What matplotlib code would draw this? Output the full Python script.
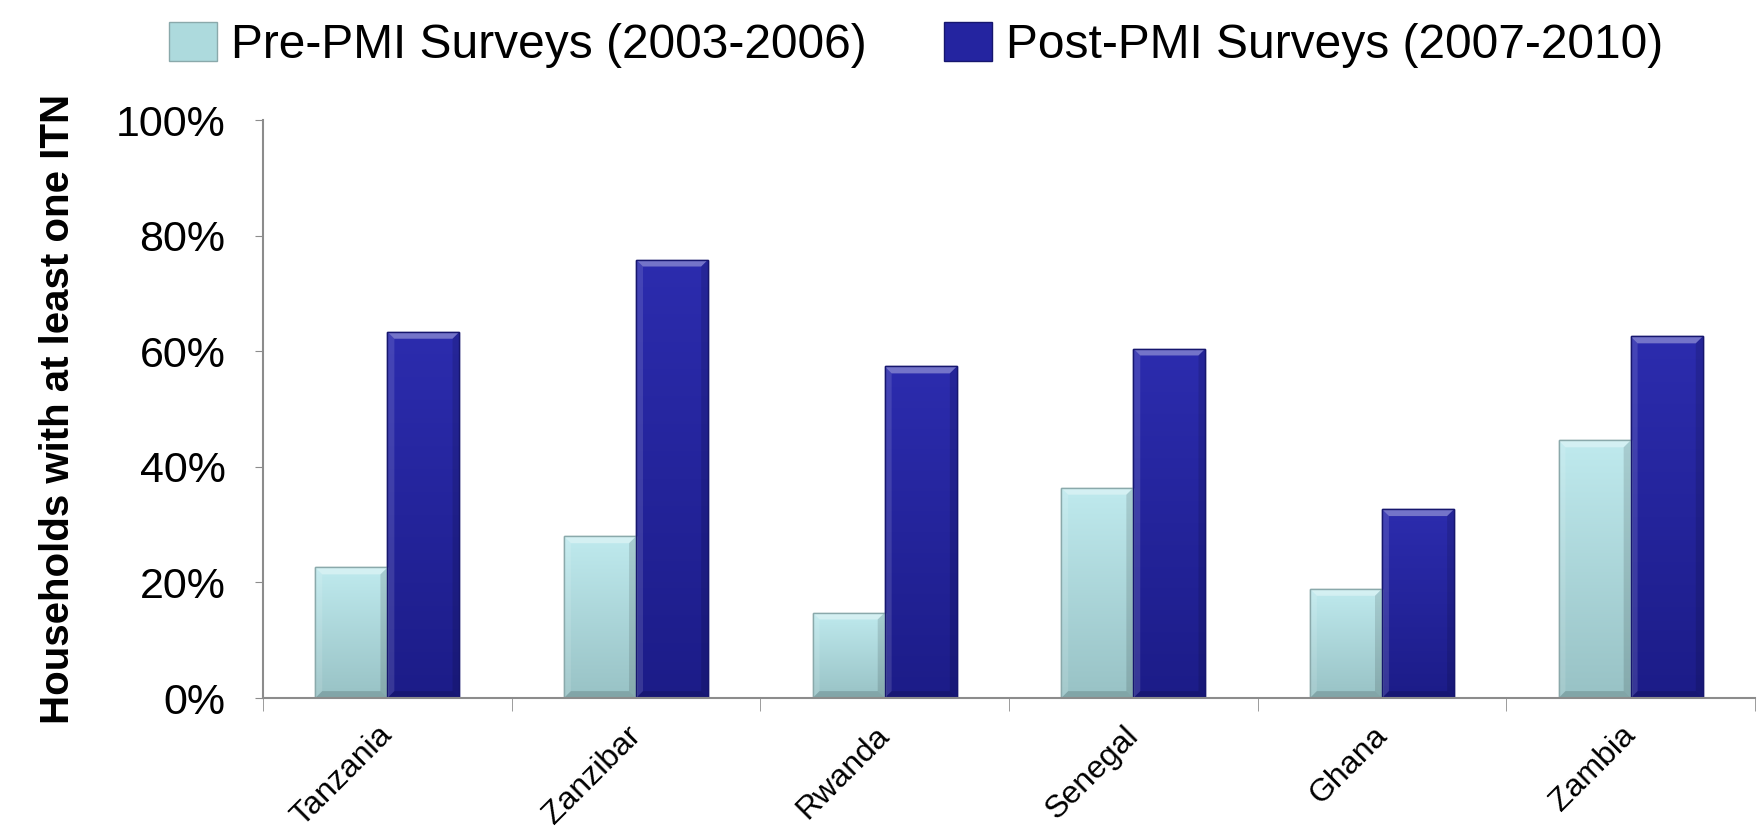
import matplotlib
matplotlib.use("Agg")
import matplotlib.pyplot as plt
import matplotlib.transforms as mtransforms
import numpy as np
from matplotlib.patches import Patch, Polygon
from matplotlib.ticker import FuncFormatter, FixedLocator

countries = ["Tanzania", "Zanzibar", "Rwanda", "Senegal", "Ghana", "Zambia"]
pre_pmi = [0.226, 0.280, 0.148, 0.364, 0.189, 0.446]
post_pmi = [0.634, 0.759, 0.574, 0.605, 0.327, 0.626]
series_labels = ["Pre-PMI Surveys (2003-2006)", "Post-PMI Surveys (2007-2010)"]

PRE_TOP, PRE_BOT, PRE_EDGE = "#bfeaee", "#98c2c5", "#8aa9ab"
POST_TOP, POST_BOT, POST_EDGE = "#2c2cae", "#1c1c88", "#16166e"
AXIS = "#8c8c8c"

plt.rcParams["font.family"] = ["Liberation Sans", "DejaVu Sans"]

fig = plt.figure(figsize=(17.62, 8.30), dpi=100)
ax = fig.add_axes([0.1493, 0.159, 0.8467, 0.696])

x = np.arange(len(countries))
w = 0.29


def bevel_bars(ax, xs, vals, top, bot, edge):
    bars = ax.bar(xs, vals, w, color=top, edgecolor=edge, linewidth=1.0, zorder=2)
    grad = np.linspace(0, 1, 256).reshape(-1, 1)
    cmap = matplotlib.colors.LinearSegmentedColormap.from_list("g", [bot, top])
    dx, dy = 0.028, 0.012
    for b in bars:
        x0, y0 = b.get_x(), b.get_y()
        x1, y1 = x0 + b.get_width(), y0 + b.get_height()
        im = ax.imshow(grad, extent=(x0, x1, y0, y1), origin="lower",
                       cmap=cmap, aspect="auto", zorder=2.1)
        im.set_clip_path(b)
        # bevelled rim: lit top edge, shaded sides
        ax.add_patch(Polygon([(x0, y1), (x1, y1), (x1 - dx, y1 - dy), (x0 + dx, y1 - dy)],
                             closed=True, facecolor="white", alpha=0.35,
                             edgecolor="none", zorder=2.2))
        ax.add_patch(Polygon([(x0, y0), (x0, y1), (x0 + dx, y1 - dy), (x0 + dx, y0 + dy)],
                             closed=True, facecolor="white", alpha=0.12,
                             edgecolor="none", zorder=2.2))
        ax.add_patch(Polygon([(x1, y0), (x1, y1), (x1 - dx, y1 - dy), (x1 - dx, y0 + dy)],
                             closed=True, facecolor="black", alpha=0.12,
                             edgecolor="none", zorder=2.2))
        ax.add_patch(Polygon([(x0, y0), (x1, y0), (x1 - dx, y0 + dy), (x0 + dx, y0 + dy)],
                             closed=True, facecolor="black", alpha=0.15,
                             edgecolor="none", zorder=2.2))
        ax.add_patch(plt.Rectangle((x0, y0), x1 - x0, y1 - y0, fill=False,
                                   edgecolor=edge, linewidth=1.0, zorder=2.3))
    return bars


bevel_bars(ax, x - w / 2, pre_pmi, PRE_TOP, PRE_BOT, PRE_EDGE)
bevel_bars(ax, x + w / 2, post_pmi, POST_TOP, POST_BOT, POST_EDGE)

ax.set_xlim(-0.5, len(countries) - 0.5)
ax.set_ylim(0, 1.0)
ax.yaxis.set_major_locator(FixedLocator(np.arange(0, 1.01, 0.2)))
ax.yaxis.set_major_formatter(FuncFormatter(lambda v, _: f"{v * 100:.0f}%"))
ax.tick_params(axis="y", labelsize=31, length=6, color=AXIS, pad=21)

ax.set_xticks(x)
ax.set_xticklabels(countries, rotation=45, ha="right", rotation_mode="anchor",
                   fontsize=23)
ax.tick_params(axis="x", which="major", length=0, pad=16)
ax.set_xticks(np.arange(-0.5, len(countries)), minor=True)
ax.tick_params(axis="x", which="minor", length=9, color=AXIS)
# nudge the slanted country names a little to the left
shift = mtransforms.ScaledTranslation(-10 / 100, 0, fig.dpi_scale_trans)
for lbl in ax.get_xticklabels():
    lbl.set_transform(lbl.get_transform() + shift)

ax.spines[["top", "right"]].set_visible(False)
ax.spines[["left", "bottom"]].set_color(AXIS)
ax.spines[["left", "bottom"]].set_linewidth(1.5)

ax.set_ylabel("Households with at least one ITN", fontsize=29, fontweight="bold",
              labelpad=28)

handles = [Patch(facecolor="#addadd", edgecolor=PRE_EDGE),
           Patch(facecolor="#2424a0", edgecolor=POST_EDGE)]
fig.legend(handles, series_labels, loc="upper center", bbox_to_anchor=(0.52, 1.025),
           ncol=2, frameon=False, fontsize=34.5, handlelength=1.0, handleheight=0.85,
           handletextpad=0.3, columnspacing=1.6)

fig.savefig("out.png", dpi=100)
